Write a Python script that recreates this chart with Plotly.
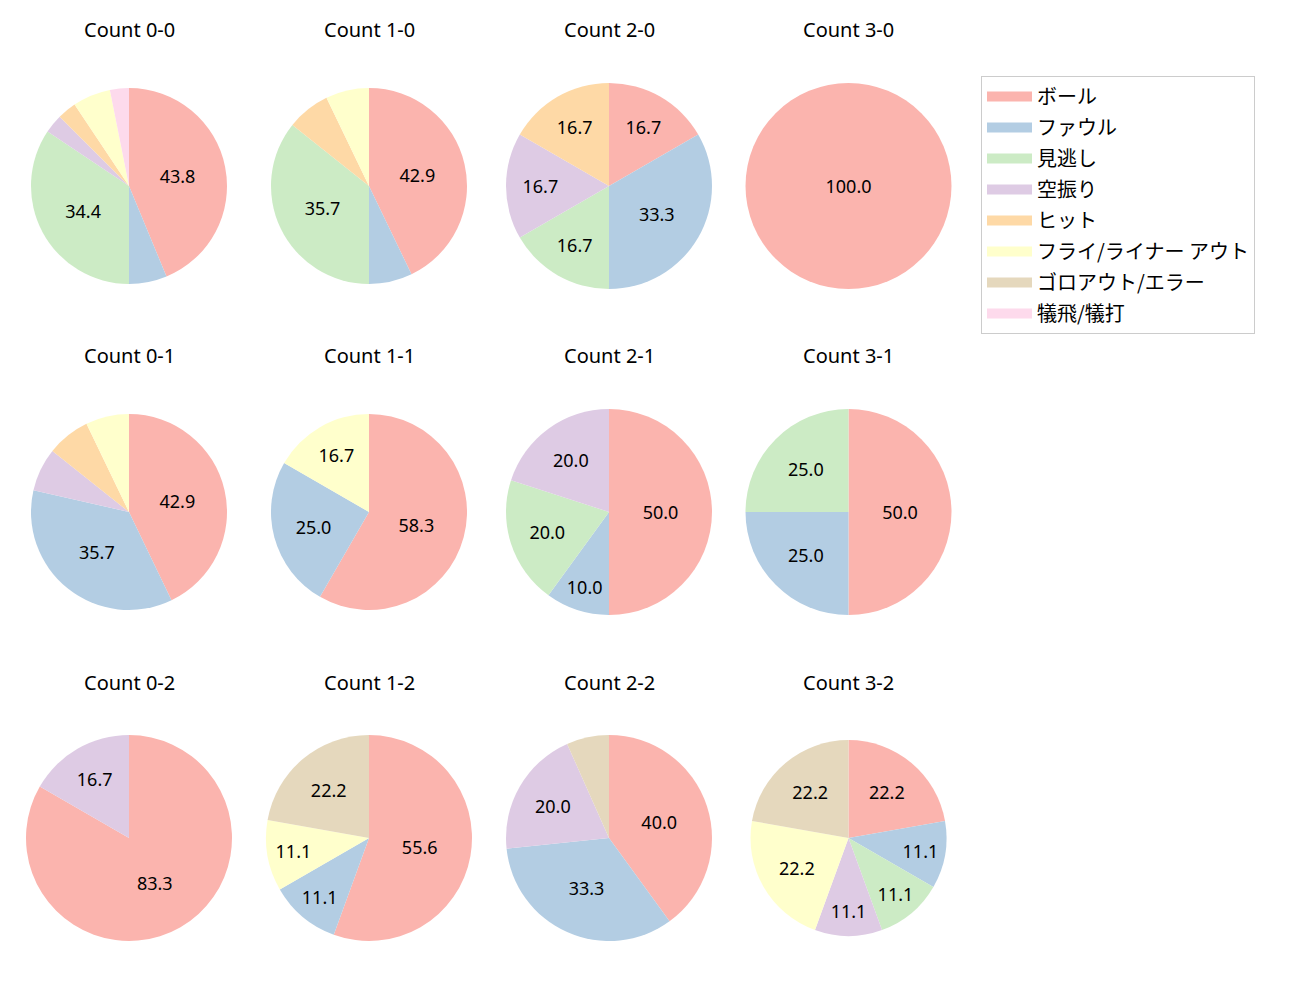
import plotly.graph_objects as go

categories = ["ボール", "ファウル", "見逃し", "空振り", "ヒット",
              "フライ/ライナー アウト", "ゴロアウト/エラー", "犠飛/犠打"]
colors = ["#fbb4ae", "#b3cde3", "#ccebc5", "#decbe4", "#fed9a6",
          "#ffffcc", "#e5d8bd", "#fddaec"]

count_titles = ["Count 0-0", "Count 1-0", "Count 2-0", "Count 3-0",
                "Count 0-1", "Count 1-1", "Count 2-1", "Count 3-1",
                "Count 0-2", "Count 1-2", "Count 2-2", "Count 3-2"]

c00 = [14, 2, 11, 1, 1, 2, 0, 1]
c10 = [6, 1, 5, 0, 1, 1, 0, 0]
c20 = [1, 2, 1, 1, 1, 0, 0, 0]
c30 = [1, 0, 0, 0, 0, 0, 0, 0]
c01 = [6, 5, 0, 1, 1, 1, 0, 0]
c11 = [7, 3, 0, 0, 0, 2, 0, 0]
c21 = [5, 1, 2, 2, 0, 0, 0, 0]
c31 = [2, 1, 1, 0, 0, 0, 0, 0]
c02 = [5, 0, 0, 1, 0, 0, 0, 0]
c12 = [5, 1, 0, 0, 0, 1, 2, 0]
c22 = [6, 5, 0, 3, 0, 0, 1, 0]
c32 = [2, 1, 1, 1, 0, 2, 2, 0]
all_counts = [c00, c10, c20, c30, c01, c11, c21, c31, c02, c12, c22, c32]

# layout (pixels)
W, H = 1300, 1000
col_x = [129, 369, 609, 848.5]
row_y = [186, 512, 838]
title_y = [29, 355, 682]
radii = [98, 98, 103, 103, 98, 98, 103, 103, 103, 103, 103, 98]

LATIN = "Noto Sans, Noto Sans CJK JP"

fig = go.Figure()
annotations = []
for i, (vals, title) in enumerate(zip(all_counts, count_titles)):
    r_i, c_i = divmod(i, 4)
    cx, cy, rad = col_x[c_i], row_y[r_i], radii[i]
    tot = sum(vals)
    texts = [f"{v / tot * 100:.1f}" if v / tot * 100 >= 10 else "" for v in vals]
    fig.add_trace(go.Pie(
        labels=categories, values=vals, text=texts,
        textinfo="text", textposition="inside",
        insidetextorientation="horizontal",
        textfont=dict(size=18, color="black", family=LATIN),
        marker=dict(colors=colors, line=dict(width=0)),
        sort=False, direction="clockwise", rotation=0,
        showlegend=False, hoverinfo="label+percent",
        domain=dict(x=[(cx - rad) / W, (cx + rad) / W],
                    y=[1 - (cy + rad) / H, 1 - (cy - rad) / H]),
    ))
    annotations.append(dict(
        text=title, x=cx / W, y=1 - title_y[r_i] / H, xref="paper", yref="paper",
        xanchor="center", yanchor="middle", showarrow=False,
        font=dict(size=20, color="black", family=LATIN)))

# legend entries (colour swatches matching the pie slices)
for k, (cat, col) in enumerate(zip(categories, colors)):
    fig.add_trace(go.Scatter(
        x=[None], y=[None], mode="lines", name=cat,
        line=dict(color=col, width=14), legendgroup=f"g{k}",
        showlegend=True, hoverinfo="skip"))

fig.update_layout(
    width=W, height=H,
    margin=dict(l=0, r=0, t=0, b=0),
    paper_bgcolor="white", plot_bgcolor="white",
    annotations=annotations,
    font=dict(family="Noto Sans CJK JP", color="black"),
    xaxis=dict(visible=False), yaxis=dict(visible=False),
    legend=dict(x=981 / W, y=1 - 76 / H, xanchor="left", yanchor="top",
                bordercolor="#cccccc", borderwidth=1, bgcolor="white",
                font=dict(size=20, family="Noto Sans CJK JP", color="black"),
                itemwidth=45, tracegroupgap=2, traceorder="grouped"),
)
fig.write_html("out.html")
